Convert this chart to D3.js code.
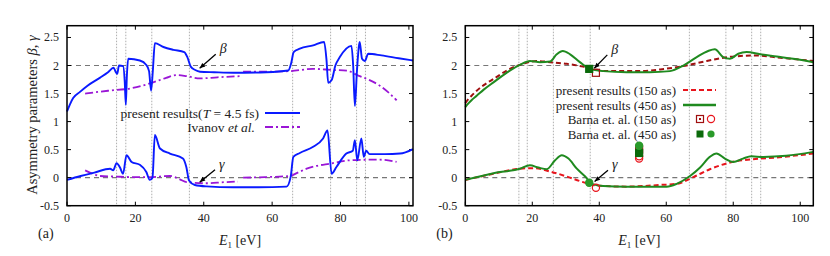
<!DOCTYPE html>
<html>
<head>
<meta charset="utf-8">
<script src="https://cdn.jsdelivr.net/npm/d3@7"></script>
<style>
  body { margin: 0; background: #fff; }
  svg text { font-family: "Times New Roman", "Liberation Serif", Times, serif; fill: #222; }
</style>
</head>
<body>
<script>
// panel (a): present results T = 4.5 fs, and Ivanov et al.
const betaA = [[0,1.18],[0.8,1.3],[1.8,1.42],[3.8,1.53],[6,1.64],[9.6,1.78],[12,1.88],[13.6,1.96],[14.3,1.88],[14.7,1.85],[15.2,2.0],[16.4,1.99],[16.9,1.7],[17.2,1.3],[17.5,1.8],[17.9,2.12],[21.3,2.09],[23.2,2.01],[24.0,1.9],[24.6,1.55],[25.1,1.9],[25.7,2.4],[28.2,2.33],[31.1,2.28],[34.3,2.24],[35.2,2.15],[36.2,1.98],[37.5,1.92],[38.9,1.89],[43,1.88],[48.6,1.87],[58.4,1.88],[64.7,1.91],[65.6,2.05],[66.3,2.24],[68.1,2.3],[72,2.36],[75.2,2.42],[75.9,2.1],[76.4,1.69],[77.4,1.74],[78.5,2.0],[79.8,2.15],[83.2,2.35],[83.7,2.0],[84.2,1.28],[84.8,1.9],[85.3,2.3],[85.6,2.42],[86.3,2.12],[87.1,2.08],[88.1,2.21],[92,2.18],[97,2.13],[101.2,2.09]];
const gammaA = [[0,-0.04],[4,0.03],[8,0.09],[12.6,0.16],[13.5,0.13],[14.5,0.26],[15.5,0.18],[16.4,0.07],[17.4,0.4],[18.9,0.28],[21.3,0.23],[23.2,0.1],[24.2,-0.04],[25,0.0],[25.7,0.76],[27.2,0.52],[30.1,0.43],[33.9,0.34],[34.9,0.19],[35.7,-0.05],[37.4,-0.13],[40.8,-0.155],[48.6,-0.17],[56,-0.17],[64.2,-0.16],[65.4,0.01],[66.2,0.37],[68.1,0.44],[72,0.55],[74.9,0.7],[76.2,0.84],[77.4,0.07],[78.8,0.19],[81.7,0.43],[83.6,0.48],[84.2,0.67],[84.9,0.31],[86.1,0.7],[86.8,0.37],[87.5,0.48],[88.5,0.42],[93,0.42],[97.4,0.43],[101.2,0.51]];
const ivanovBeta1 = [[5.3,1.5],[12,1.55],[18.4,1.59],[22,1.64],[25.2,1.7],[29,1.78],[32,1.83],[35,1.81],[38.9,1.77],[44,1.79],[50.6,1.81]];
const ivanovBeta2 = [[51.5,1.89],[58,1.89],[65.2,1.9],[72,1.94],[77.9,1.92],[81.8,1.91],[85.2,1.82],[88.5,1.74],[91.5,1.64],[94,1.52],[96.4,1.38]];
const ivanovGamma1 = [[5.3,0.13],[7.5,0.07],[9.6,0.03],[14,0.02],[19.4,0.01],[24.3,0.01],[30.1,0.03],[33,-0.03],[35,-0.08],[40.8,-0.1],[46,-0.08],[50,-0.07]];
const ivanovGamma2 = [[51.5,0.0],[58,0.01],[65.2,0.03],[67.5,0.09],[70.1,0.16],[73,0.21],[76.9,0.25],[82.7,0.31],[88,0.32],[91.5,0.32],[96.4,0.28]];
const resonancesA = [14.5, 17.2, 24.8, 35.8, 66.0, 77.1, 84.7, 87.3];

// panel (b): present results 150 as / 450 as, and Barna et al.
const beta450 = [[0,1.26],[1,1.33],[2,1.39],[3.4,1.46],[5.5,1.57],[8.4,1.7],[13.3,1.91],[16.3,2.01],[19.3,2.08],[22.3,2.06],[25.3,2.07],[27.3,2.2],[29.1,2.26],[31.3,2.2],[34.2,2.06],[37.2,1.94],[41.2,1.9],[48.2,1.88],[55,1.88],[61.1,1.9],[65.1,2.0],[69.1,2.15],[72.5,2.26],[74.5,2.29],[77,2.15],[79,2.12],[81.5,2.21],[84,2.24],[88,2.2],[93,2.16],[97.9,2.12],[103.9,2.06]];
const beta150 = [[0,1.33],[1,1.41],[2,1.47],[3.4,1.55],[5.5,1.65],[8.4,1.76],[13.3,1.94],[17.3,2.03],[21.3,2.08],[25.3,2.06],[30.3,2.03],[35.2,1.98],[38.7,1.93],[42.2,1.9],[52.2,1.9],[58.2,1.93],[64.1,1.98],[72.1,2.08],[77.1,2.14],[82.1,2.17],[87.1,2.18],[92.1,2.15],[103.9,2.08]];
const gamma450 = [[0,-0.04],[8.4,0.08],[16.3,0.16],[19.3,0.22],[21.8,0.18],[24.3,0.15],[26.8,0.31],[28.8,0.4],[30.8,0.34],[33.3,0.16],[35.8,0.02],[37.8,-0.11],[41.2,-0.15],[48.2,-0.16],[60.1,-0.16],[63.1,-0.11],[67.1,0.03],[70.1,0.18],[73,0.37],[75,0.43],[77.5,0.34],[80,0.28],[82.9,0.34],[85.4,0.38],[88.9,0.37],[95.8,0.39],[103.9,0.46]];
const gamma150 = [[0,-0.04],[8.4,0.07],[16.3,0.16],[20.3,0.17],[25.3,0.11],[30.3,0.02],[35.2,-0.08],[39.2,-0.14],[48.2,-0.16],[58.2,-0.13],[63.1,-0.11],[68.1,0.01],[73,0.15],[79,0.27],[85.9,0.33],[92.8,0.36],[103.9,0.43]];
const barnaSq150 = [[39.0,1.87],[51.9,0.5]];
const barnaCi150 = [[39.0,-0.18],[51.9,0.38],[51.9,0.34]];
const barnaSq450 = [[37.0,1.94],[51.9,0.44]];
const barnaCi450 = [[37.0,-0.09],[51.9,0.57]];
const resonancesB = [16.0, 18.5, 26.3, 37.3, 66.9, 77.8, 85.5, 88.2];

const yTicks = [-0.5, 0, 0.5, 1, 1.5, 2, 2.5];
const xTicks = [0, 20, 40, 60, 80, 100];

const W = 830, H = 256;
const svg = d3.select('body').append('svg').attr('width', W).attr('height', H)
    .attr('font-family', '"Times New Roman", "Liberation Serif", serif');

const yTop = 25.7, yBottom = 205.7;
const y = d3.scaleLinear().domain([-0.5, 2.71]).range([yBottom, yTop]);
const xa = d3.scaleLinear().domain([0, 101.2]).range([67, 413]);
const xb = d3.scaleLinear().domain([0, 103.9]).range([465.3, 813.3]);

function frame(x, tag) {
    const g = svg.append('g');
    const [x0, x1] = x.range();
    // resonance positions and reference lines
    (tag === 'a' ? resonancesA : resonancesB).forEach(r => {
        g.append('line').attr('x1', x(r)).attr('x2', x(r)).attr('y1', yTop).attr('y2', yBottom)
            .attr('stroke', '#999').attr('stroke-width', 0.8).attr('stroke-dasharray', '1.5,1.5');
    });
    [0, 2].forEach(v => {
        g.append('line').attr('x1', x0).attr('x2', x1).attr('y1', y(v)).attr('y2', y(v))
            .attr('stroke', '#777').attr('stroke-width', 1.2).attr('stroke-dasharray', '5,4');
    });
    // ticks (inward, mirrored)
    xTicks.forEach(t => {
        g.append('line').attr('x1', x(t)).attr('x2', x(t)).attr('y1', yBottom).attr('y2', yBottom - 4).attr('stroke', '#000');
        g.append('line').attr('x1', x(t)).attr('x2', x(t)).attr('y1', yTop).attr('y2', yTop + 4).attr('stroke', '#000');
        g.append('text').attr('x', x(t)).attr('y', 222).attr('text-anchor', 'middle')
            .style('font-size', '12px').text(t);
    });
    yTicks.forEach(t => {
        g.append('line').attr('x1', x0).attr('x2', x0 + 4).attr('y1', y(t)).attr('y2', y(t)).attr('stroke', '#000');
        g.append('line').attr('x1', x1).attr('x2', x1 - 4).attr('y1', y(t)).attr('y2', y(t)).attr('stroke', '#000');
        g.append('text').attr('x', x0 - 8).attr('y', y(t) + 4).attr('text-anchor', 'end')
            .style('font-size', '12px').text(t);
    });
    g.append('text').attr('x', (x0 + x1) / 2).attr('y', 245).attr('text-anchor', 'middle')
        .style('font-size', '14px')
        .call(t => {
            t.append('tspan').style('font-style', 'italic').text('E');
            t.append('tspan').attr('dy', 3).style('font-size', '9px').text('1');
            t.append('tspan').attr('dy', -3).text(' [eV]');
        });
    g.append('text').attr('x', x0 - 29).attr('y', 238).style('font-size', '14px').text('(' + tag + ')');
    return g;
}

function box(x) {
    const [x0, x1] = x.range();
    svg.append('rect').attr('x', x0).attr('y', yTop).attr('width', x1 - x0).attr('height', yBottom - yTop)
        .attr('fill', 'none').attr('stroke', '#000').attr('stroke-width', 1.5);
}

function curve(x, data, color, width, dash) {
    const line = d3.line().x(d => x(d[0])).y(d => y(d[1])).curve(d3.curveMonotoneX);
    const p = svg.append('path').datum(data).attr('d', line)
        .attr('fill', 'none').attr('stroke', color).attr('stroke-width', width)
        .attr('stroke-linejoin', 'round');
    if (dash) p.attr('stroke-dasharray', dash);
}

function arrow(x1, y1, x2, y2, label) {
    svg.append('line').attr('x1', x1).attr('y1', y1).attr('x2', x2).attr('y2', y2)
        .attr('stroke', '#000').attr('stroke-width', 1.3);
    const a = Math.atan2(y2 - y1, x2 - x1), L = 6, s = 0.4;
    const pts = [[x2, y2], [x2 - L * Math.cos(a - s), y2 - L * Math.sin(a - s)], [x2 - L * Math.cos(a + s), y2 - L * Math.sin(a + s)]];
    svg.append('polygon').attr('points', pts.map(p => p.join(',')).join(' ')).attr('fill', '#000');
    svg.append('text').attr('x', x1 + 4).attr('y', y1 - 1).style('font-size', '14px').style('font-style', 'italic').text(label);
}

// ---------- panel (a)
frame(xa, 'a');
const dashDot = '8,3,2,3';
const purple = '#9a16d6';
curve(xa, ivanovBeta1, purple, 1.8, dashDot);
curve(xa, ivanovBeta2, purple, 1.8, dashDot);
curve(xa, ivanovGamma1, purple, 1.8, dashDot);
curve(xa, ivanovGamma2, purple, 1.8, dashDot);
curve(xa, betaA, '#0a1aff', 1.9);
curve(xa, gammaA, '#0a1aff', 1.9);
box(xa);
arrow(xa(43.5), y(2.2), xa(38.8), y(1.95), 'β');
arrow(xa(43.3), y(0.14), xa(38.8), y(-0.08), 'γ');

// legend (a)
svg.append('text').attr('x', 259).attr('y', 117.5).attr('text-anchor', 'end').style('font-size', '13.5px')
    .call(t => {
        t.append('tspan').text('present results(');
        t.append('tspan').style('font-style', 'italic').text('T');
        t.append('tspan').text(' = 4.5 fs)');
    });
svg.append('line').attr('x1', 265).attr('x2', 300).attr('y1', 113).attr('y2', 113).attr('stroke', '#0a1aff').attr('stroke-width', 1.9);
svg.append('text').attr('x', 255).attr('y', 131.5).attr('text-anchor', 'end').style('font-size', '13.5px')
    .call(t => {
        t.append('tspan').text('Ivanov ');
        t.append('tspan').style('font-style', 'italic').text('et al.');
    });
svg.append('line').attr('x1', 265).attr('x2', 300).attr('y1', 127).attr('y2', 127).attr('stroke', purple)
    .attr('stroke-width', 1.8).attr('stroke-dasharray', dashDot);

// y axis title
svg.append('text').attr('transform', 'translate(37,115) rotate(-90)').attr('text-anchor', 'middle')
    .style('font-size', '14.5px')
    .call(t => {
        t.append('tspan').text('Asymmetry parameters ');
        t.append('tspan').style('font-style', 'italic').text('β');
        t.append('tspan').text(', ');
        t.append('tspan').style('font-style', 'italic').text('γ');
    });

// ---------- panel (b)
frame(xb, 'b');
const red = '#e8141c', darkRed = '#a01010', green = '#1f8a1f', darkGreen = '#0b6a0b';
curve(xb, beta150, darkRed, 2, '5,3');
curve(xb, gamma150, red, 2, '5,3');
curve(xb, beta450, green, 2);
curve(xb, gamma450, green, 2);

function squares(x, data, color, filled) {
    svg.selectAll(null).data(data).enter().append('rect')
        .attr('x', d => x(d[0]) - 3.5).attr('y', d => y(d[1]) - 3.5).attr('width', 7).attr('height', 7)
        .attr('fill', filled ? color : 'none').attr('stroke', color).attr('stroke-width', 1.2);
}
function circles(x, data, color, filled) {
    svg.selectAll(null).data(data).enter().append('circle')
        .attr('cx', d => x(d[0])).attr('cy', d => y(d[1])).attr('r', 3.6)
        .attr('fill', filled ? color : 'none').attr('stroke', color).attr('stroke-width', 1.2);
}
squares(xb, barnaSq150, darkRed, false);
circles(xb, barnaCi150, red, false);
squares(xb, barnaSq450, darkGreen, true);
circles(xb, barnaCi450, '#2a9a2a', true);
box(xb);
arrow(xb(42.4), y(2.19), xb(38.5), y(1.95), 'β');
arrow(xb(42.6), y(0.13), xb(38.6), y(-0.07), 'γ');

// legend (b)
const legB = ['present results (150 as)', 'present results (450 as)', 'Barna et. al. (150 as)', 'Barna et. al. (450 as)'];
const legY = [90, 105, 119, 134];
legB.forEach((s, i) => {
    svg.append('text').attr('x', 676).attr('y', legY[i] + 4.5).attr('text-anchor', 'end').style('font-size', '13px').text(s);
});
svg.append('line').attr('x1', 683).attr('x2', 716).attr('y1', 90).attr('y2', 90).attr('stroke', red).attr('stroke-width', 2).attr('stroke-dasharray', '5,3');
svg.append('line').attr('x1', 683).attr('x2', 716).attr('y1', 105).attr('y2', 105).attr('stroke', green).attr('stroke-width', 2.4);
svg.append('rect').attr('x', 696.5).attr('y', 115.5).attr('width', 7).attr('height', 7).attr('fill', 'none').attr('stroke', darkRed).attr('stroke-width', 1.2);
svg.append('rect').attr('x', 699).attr('y', 118).attr('width', 2).attr('height', 2).attr('fill', darkRed);
svg.append('circle').attr('cx', 711).attr('cy', 119).attr('r', 3.6).attr('fill', 'none').attr('stroke', red).attr('stroke-width', 1.2);
svg.append('rect').attr('x', 696.5).attr('y', 130.5).attr('width', 7).attr('height', 7).attr('fill', darkGreen);
svg.append('circle').attr('cx', 711).attr('cy', 134).attr('r', 3.6).attr('fill', '#2a9a2a');
</script>
</body>
</html>
